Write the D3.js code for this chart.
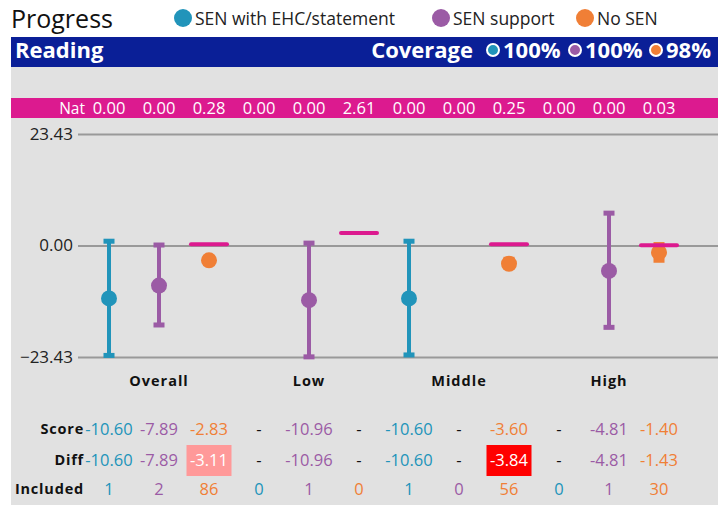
<!DOCTYPE html>
<html>
<head>
<meta charset="utf-8">
<script src="https://cdn.jsdelivr.net/npm/d3@7"></script>
<style>
  body { margin: 0; background: #fff; }
  text { font-family: "Open Sans", "Noto Sans", sans-serif; }
</style>
</head>
<body>
<div id="chart"></div>
<script>
// Chart data
const groups = ["Overall", "Low", "Middle", "High"]
const series = ["SEN with EHC/statement", "SEN support", "No SEN"]
const coverage = ["100%", "100%", "98%"]
const yTicks = [23.43, 0, -23.43]

// one entry per slot: group x series
const natValues = [0.00, 0.00, 0.28, 0.00, 0.00, 2.61, 0.00, 0.00, 0.25, 0.00, 0.00, 0.03]
const scores    = [-10.60, -7.89, -2.83, null, -10.96, null, -10.60, null, -3.60, null, -4.81, -1.40]
const diffs     = [-10.60, -7.89, -3.11, null, -10.96, null, -10.60, null, -3.84, null, -4.81, -1.43]
const ciLow     = [-23.1, -16.7, -3.7, null, -23.4, null, -23.0, null, -4.4, null, -17.2, -3.1]
const ciHigh    = [0.9, 0.1, -2.5, null, 0.5, null, 0.9, null, -2.9, null, 6.8, 0.2]
const included  = [1, 2, 86, 0, 1, 0, 1, 0, 56, 0, 1, 30]
const diffSig   = ["", "", "low", "", "", "", "", "", "verylow", "", "", ""]

const WIDTH = 718
const HEIGHT = 505
const COLOURS = ["#2194ba", "#9b5ba5", "#f07f36"]
const NAT_COLOUR = "#dc1a8f"
const SIG_FILL = {low: "#ff9999", verylow: "#ff0000"}

const svg = d3.select("#chart").append("svg")
    .attr("width", WIDTH)
    .attr("height", HEIGHT)

const slots = d3.range(groups.length * series.length)
const x = d3.scaleBand().domain(slots).range([84, 684])
const cx = i => x(i) + x.bandwidth() / 2
const y = d3.scaleLinear().domain([-23.43, 23.43]).range([357, 134])
const colourOf = i => COLOURS[i % series.length]

// Title and legend
svg.append("text")
    .attr("x", 11).attr("y", 28)
    .attr("font-size", 25).attr("fill", "#111")
    .text("Progress")

const legendX = [183, 441, 585]
series.forEach((s, i) => {
    svg.append("circle").attr("cx", legendX[i]).attr("cy", 18).attr("r", 9).attr("fill", COLOURS[i])
    svg.append("text")
        .attr("x", legendX[i] + 12).attr("y", 24.5)
        .attr("font-size", 17.5).attr("fill", "#222")
        .text(s)
})

// Header bar
svg.append("rect").attr("x", 11).attr("y", 37).attr("width", WIDTH - 11).attr("height", 30).attr("fill", "#0a1f97")
svg.append("text")
    .attr("x", 15).attr("y", 58)
    .attr("font-size", 22).attr("font-weight", "bold").attr("fill", "#fff")
    .text("Reading")

const covX = [493, 575, 656]
svg.append("text")
    .attr("x", 473).attr("y", 58).attr("text-anchor", "end")
    .attr("font-size", 22).attr("font-weight", "bold").attr("fill", "#fff")
    .text("Coverage")
coverage.forEach((c, i) => {
    svg.append("circle").attr("cx", covX[i]).attr("cy", 50).attr("r", 6)
        .attr("fill", COLOURS[i]).attr("stroke", "#fff").attr("stroke-width", 2)
    svg.append("text")
        .attr("x", covX[i] + 10).attr("y", 58)
        .attr("font-size", 22).attr("font-weight", "bold").attr("fill", "#fff")
        .text(c)
})

// Plot panel
svg.append("rect").attr("x", 11).attr("y", 67).attr("width", WIDTH - 11).attr("height", HEIGHT - 67).attr("fill", "#e1e1e1")

// National values strip
svg.append("rect").attr("x", 11).attr("y", 98).attr("width", WIDTH - 11).attr("height", 20).attr("fill", NAT_COLOUR)
svg.append("text")
    .attr("x", 85).attr("y", 114).attr("text-anchor", "end")
    .attr("font-size", 15.5).attr("fill", "#fff")
    .text("Nat")
svg.append("g").selectAll("text").data(slots).join("text")
    .attr("x", cx).attr("y", 114).attr("text-anchor", "middle")
    .attr("font-size", 16.5).attr("fill", "#fff")
    .text(i => natValues[i].toFixed(2))

// y axis gridlines
const yAxis = svg.append("g")
    .attr("transform", "translate(78,0)")
    .call(d3.axisLeft(y).tickValues(yTicks).tickSize(0).tickPadding(5).tickFormat(d3.format(".2f")))
yAxis.select(".domain").remove()
yAxis.selectAll("text").attr("font-size", 17).attr("fill", "#222").attr("font-family", "'Open Sans', sans-serif")
yAxis.selectAll(".tick").append("line")
    .attr("x1", 0).attr("x2", WIDTH - 78)
    .attr("stroke", "#999").attr("stroke-width", 2)

// Error bars
const withData = slots.filter(i => diffs[i] !== null)
const bars = svg.append("g").selectAll("g").data(withData).join("g").attr("fill", colourOf)
bars.append("rect")
    .attr("x", i => cx(i) - 2).attr("width", 4)
    .attr("y", i => y(ciHigh[i])).attr("height", i => y(ciLow[i]) - y(ciHigh[i]))
bars.append("rect")
    .attr("x", i => cx(i) - 5.5).attr("width", 11)
    .attr("y", i => y(ciHigh[i]) - 2.5).attr("height", 5)
bars.append("rect")
    .attr("x", i => cx(i) - 5.5).attr("width", 11)
    .attr("y", i => y(ciLow[i]) - 2.5).attr("height", 5)

// Points
svg.append("g").selectAll("circle").data(withData).join("circle")
    .attr("cx", cx).attr("cy", i => y(diffs[i]) + (i % 3 == 2 ? 0 : 2.5)).attr("r", 8)
    .attr("fill", colourOf)

// National markers
svg.append("g").selectAll("line").data(slots.filter(i => natValues[i] !== 0)).join("line")
    .attr("x1", i => cx(i) - 18).attr("x2", i => cx(i) + 18)
    .attr("y1", i => y(natValues[i])).attr("y2", i => y(natValues[i]))
    .attr("stroke", NAT_COLOUR).attr("stroke-width", 4).attr("stroke-linecap", "round")

// Group labels
svg.append("g").selectAll("text").data(groups).join("text")
    .attr("x", (g, gi) => cx(gi * series.length + 1)).attr("y", 386)
    .attr("text-anchor", "middle").attr("font-size", 14.5).attr("font-weight", "bold")
    .attr("letter-spacing", 1).attr("fill", "#111")
    .text(g => g)

// Table rows
const rows = [
    {label: "Score", y: 435, values: scores, fmt: v => v.toFixed(2)},
    {label: "Diff", y: 466, values: diffs, fmt: v => v.toFixed(2)},
    {label: "Included", y: 495, values: included, fmt: v => v}
]

// Significance highlight behind diffs
svg.append("g").selectAll("rect").data(slots.filter(i => diffSig[i])).join("rect")
    .attr("x", i => cx(i) - 22.5).attr("width", 45)
    .attr("y", 445).attr("height", 31)
    .attr("fill", i => SIG_FILL[diffSig[i]])

rows.forEach(row => {
    svg.append("text")
        .attr("x", 84).attr("y", row.y - 1).attr("text-anchor", "end")
        .attr("font-size", 14.5).attr("font-weight", "bold").attr("letter-spacing", 0.8).attr("fill", "#111")
        .text(row.label)
    svg.append("g").selectAll("text").data(slots).join("text")
        .attr("x", cx).attr("y", row.y).attr("text-anchor", "middle")
        .attr("font-size", 16.5)
        .attr("fill", i => row.values[i] === null ? "#111" : (diffSig[i] && row.label == "Diff" ? "#fff" : colourOf(i)))
        .text(i => row.values[i] === null ? "-" : row.fmt(row.values[i]))
})
</script>
</body>
</html>
